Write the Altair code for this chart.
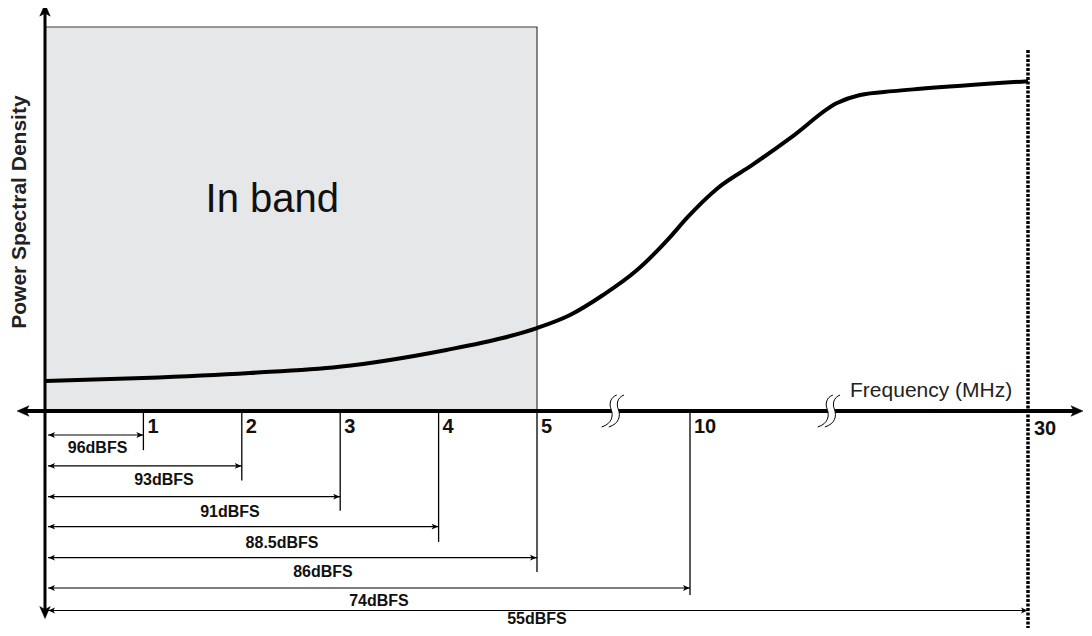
import altair as alt
import pandas as pd

# ---- data ----
curve_freq = [0, 1.0, 2.08, 2.99, 4.08, 4.65, 5.0, 6.08, 7.16, 8.27, 9.35, 9.9, 11.6, 13.73, 16.09, 18.7, 20.06, 22.01, 23.61, 30]
curve_psd = [7.8, 8.6, 9.9, 11.5, 15.9, 19.0, 21.6, 25.0, 30.2, 36.7, 45.3, 50.3, 57.9, 64.2, 71.6, 80.2, 82.3, 83.3, 83.9, 85.9]

band_freq = [0, 5]
band_psd = [0, 100]

tick_freq = [1, 2, 3, 4, 5, 10]
tick_text = ["1", "2", "3", "4", "5", "10"]
tick_bottom = [-10.2, -18.1, -26.0, -34.1, -41.9, -47.9]

limit_freq = [30]
limit_text = ["30"]
limit_span = [94.0, -56.6]

dim_end = [1, 2, 3, 4, 5, 10, 30]
dim_text = ["96dBFS", "93dBFS", "91dBFS", "88.5dBFS", "86dBFS", "74dBFS", "55dBFS"]
dim_level = [-6.25, -14.3, -22.3, -30.1, -38.2, -46.1, -51.95]
dim_label_freq = [0.534, 1.209, 1.880, 2.409, 2.825, 3.394, 5.0]
dim_label_level = [-11.0, -19.4, -27.6, -35.8, -43.3, -50.9, -55.5]

break_freq = [7.45, 18.17]

x_axis_span = [-0.208, 32.81]
y_axis_span = [-52.1, 104.0]

FONT = "Liberation Sans"

xs = alt.Scale(domain=[0, 5, 10, 30], range=[37, 529, 682, 1020], zero=False, nice=False)
ys = alt.Scale(domain=[0, 100], range=[403, 19], zero=False, nice=False)


def X(field="f"):
    return alt.X(f"{field}:Q", scale=xs, axis=None)


def Y(field="v"):
    return alt.Y(f"{field}:Q", scale=ys, axis=None)


ARROW = "M 0 -1 L 0.7 0.6 L 0 0.2 L -0.7 0.6 Z"
S1 = "M 0.3 -1 C -0.1 -0.85 -0.2 -0.45 -0.05 -0.1 C 0.1 0.3 0.0 0.8 -0.65 1"
S2 = "M 0.75 -1 C 0.35 -0.85 0.25 -0.45 0.4 -0.1 C 0.55 0.3 0.45 0.8 -0.2 1"
SFILL = ("M 0.3 -1 C -0.1 -0.85 -0.2 -0.45 -0.05 -0.1 C 0.1 0.3 0.0 0.8 -0.65 1 "
         "L -0.2 1 C 0.45 0.8 0.55 0.3 0.4 -0.1 C 0.25 -0.45 0.35 -0.85 0.75 -1 Z")

# band rectangle
band_df = pd.DataFrame({"f": [band_freq[0]], "f2": [band_freq[1]], "v": [band_psd[0]], "v2": [band_psd[1]]})
band = alt.Chart(band_df).mark_rect(fill="#e6e7e9", stroke="#3a3a3a", strokeWidth=1.2).encode(
    x=X(), x2="f2:Q", y=Y(), y2="v2:Q")

band_label = alt.Chart(pd.DataFrame({"f": [2.31], "v": [51.8], "t": ["In band"]})).mark_text(
    font=FONT, fontSize=40, color="#111", align="center", baseline="alphabetic").encode(
    x=X(), y=Y(), text="t:N")

# PSD curve
curve_df = pd.DataFrame({"f": curve_freq, "v": curve_psd})
curve = alt.Chart(curve_df).mark_line(color="black", strokeWidth=4, interpolate="monotone").encode(
    x=X(), y=Y())

# axes lines
xaxis_df = pd.DataFrame({"f": [x_axis_span[0]], "f2": [x_axis_span[1]], "v": [0]})
xaxis = alt.Chart(xaxis_df).mark_rule(color="black", strokeWidth=4).encode(x=X(), x2="f2:Q", y=Y())
yaxis_df = pd.DataFrame({"f": [0], "v": [y_axis_span[0]], "v2": [y_axis_span[1]]})
yaxis = alt.Chart(yaxis_df).mark_rule(color="black", strokeWidth=3).encode(x=X(), y=Y(), y2="v2:Q")

axis_heads_df = pd.DataFrame({
    "f": [x_axis_span[0], x_axis_span[1], 0, 0],
    "v": [0, 0, y_axis_span[1], y_axis_span[0]],
    "a": [270, 90, 0, 180],
})
axis_heads = alt.Chart(axis_heads_df).mark_point(
    shape=ARROW, filled=True, fill="black", stroke="black", strokeWidth=0.5, size=225, opacity=1).encode(
    x=X(), y=Y(), angle=alt.Angle("a:Q", scale=None))

# break marks on x axis
break_df = pd.DataFrame({"f": break_freq, "v": [0, 0]})
break_fill = alt.Chart(break_df).mark_point(
    shape=SFILL, filled=True, fill="white", strokeWidth=0, size=1024, opacity=1).encode(x=X(), y=Y())
break_s1 = alt.Chart(break_df).mark_point(
    shape=S1, filled=False, stroke="black", strokeWidth=1, size=1024, opacity=1).encode(x=X(), y=Y())
break_s2 = alt.Chart(break_df).mark_point(
    shape=S2, filled=False, stroke="black", strokeWidth=1, size=1024, opacity=1).encode(x=X(), y=Y())

axis_title = alt.Chart(pd.DataFrame({"f": [19.47], "v": [3.6], "t": ["Frequency (MHz)"]})).mark_text(
    font=FONT, fontSize=21, color="#222", align="left", baseline="alphabetic").encode(
    x=X(), y=Y(), text="t:N")

y_title = alt.Chart(pd.DataFrame({"f": [-0.249], "v": [51.8], "t": ["Power Spectral Density"]})).mark_text(
    font=FONT, fontSize=21, fontWeight="bold", color="#222", align="center", baseline="middle", angle=270).encode(
    x=X(), y=Y(), text="t:N")

# ticks
tick_df = pd.DataFrame({"f": tick_freq, "v": [0] * len(tick_freq), "v2": tick_bottom, "t": tick_text})
tick_lines = alt.Chart(tick_df).mark_rule(color="black", strokeWidth=1.3).encode(x=X(), y=Y(), y2="v2:Q")
tick_labels = alt.Chart(tick_df).mark_text(
    font=FONT, fontSize=20, fontWeight="bold", color="#111", align="left", baseline="alphabetic", dx=4).encode(
    x=X(), y=alt.Y("lv:Q", scale=ys, axis=None), text="t:N").transform_calculate(lv="-5.7")

limit_df = pd.DataFrame({"f": limit_freq, "v": [limit_span[0]], "v2": [limit_span[1]], "t": limit_text})
limit_line = alt.Chart(limit_df).mark_rule(color="black", strokeWidth=3.5, strokeDash=[3, 1.5]).encode(
    x=X(), y=Y(), y2="v2:Q")
limit_label = alt.Chart(limit_df).mark_text(
    font=FONT, fontSize=20, fontWeight="bold", color="#111", align="left", baseline="alphabetic", dx=6).encode(
    x=X(), y=alt.Y("lv:Q", scale=ys, axis=None), text="t:N").transform_calculate(lv="-6.3")

# dimension arrows
dim_df = pd.DataFrame({"f": [0.03] * len(dim_end), "f2": dim_end, "v": dim_level})
dim_lines = alt.Chart(dim_df).mark_rule(color="black", strokeWidth=1.2).encode(x=X(), x2="f2:Q", y=Y())
dim_left = alt.Chart(pd.DataFrame({"f": [0] * len(dim_end), "v": dim_level})).mark_point(
    shape=ARROW, filled=True, fill="black", strokeWidth=0, size=70, opacity=1, angle=270, xOffset=7.5).encode(
    x=X(), y=Y())
dim_right = alt.Chart(pd.DataFrame({"f": dim_end, "v": dim_level})).mark_point(
    shape=ARROW, filled=True, fill="black", strokeWidth=0, size=70, opacity=1, angle=90, xOffset=-4.5).encode(
    x=X(), y=Y())
dim_labels = alt.Chart(pd.DataFrame({"f": dim_label_freq, "v": dim_label_level, "t": dim_text})).mark_text(
    font=FONT, fontSize=16, fontWeight="bold", color="#111", align="center", baseline="alphabetic").encode(
    x=X(), y=Y(), text="t:N")

chart = alt.layer(
    band, band_label, curve, tick_lines, limit_line, dim_lines, dim_left, dim_right, dim_labels,
    xaxis, yaxis, break_fill, break_s1, break_s2, axis_heads, axis_title, y_title, tick_labels, limit_label,
).properties(
    width=1076, height=620, padding=0, autosize=alt.AutoSizeParams(type="none"), background="white"
).configure_view(stroke=None)

chart.save("out.html", embed_options={"renderer": "svg", "actions": False})
